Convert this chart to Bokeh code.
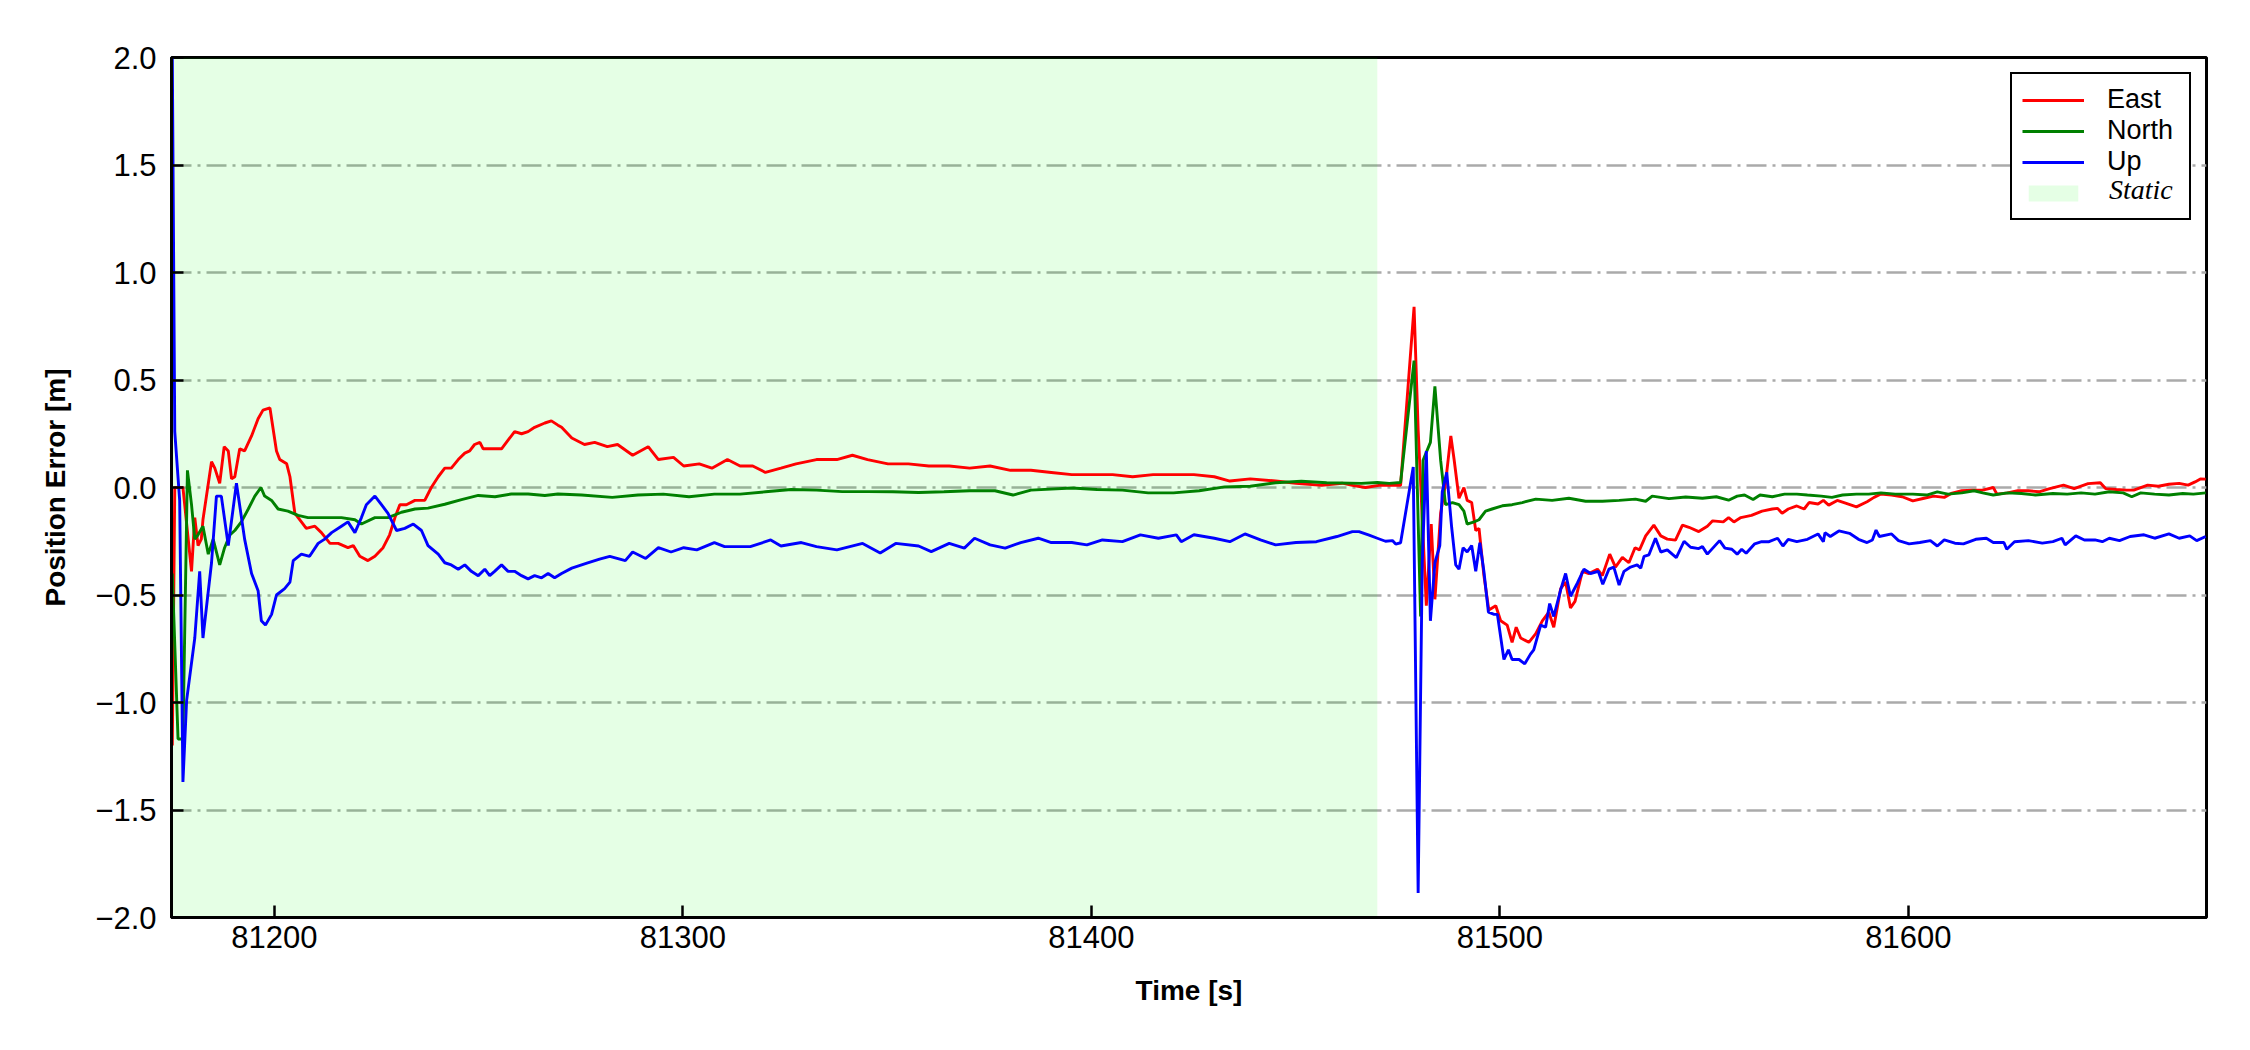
from bokeh.plotting import figure
from bokeh.models import (Range1d, FixedTicker, Legend, LegendItem)
from bokeh.embed import file_html
from bokeh.resources import INLINE

# ---------------- data ----------------
east_t = [81175.0, 81175.6, 81177.6, 81179.7, 81180.5, 81181.3, 81182.1, 81182.5, 81184.6, 81185.4,
          81186.6, 81187.7, 81188.7, 81189.5, 81190.3, 81191.5, 81192.7, 81194.4, 81196.0, 81197.2,
          81198.9, 81200.5, 81201.3, 81203.0, 81203.8, 81205.0, 81206.6, 81207.8, 81209.9, 81211.5,
          81213.6, 81215.6, 81218.0, 81219.3, 81220.9, 81222.9, 81224.6, 81226.6, 81228.2, 81229.5,
          81230.7, 81232.3, 81234.4, 81236.8, 81238.4, 81240.1, 81241.7, 81243.3, 81245.0, 81246.6,
          81247.8, 81249.0, 81250.3, 81251.1, 81252.3, 81253.9, 81255.6, 81257.2, 81258.8, 81260.5,
          81262.1, 81263.7, 81266.2, 81267.8, 81269.4,
          81270.3, 81272.8, 81275.9, 81278.4, 81281.5, 81284.0, 81287.7, 81291.5, 81294.0, 81297.7,
          81300.2, 81304.0, 81307.1, 81310.9, 81314.0, 81317.1, 81320.2, 81324.0, 81327.7, 81332.7,
          81337.7, 81341.5, 81345.2, 81350.2, 81355.2, 81360.2, 81365.2, 81370.2, 81375.2, 81380.2,
          81385.2, 81390.2, 81395.2, 81400.2, 81405.2, 81410.1, 81415.1, 81420.1, 81425.1, 81430.1,
          81433.9, 81438.9, 81445.1, 81450.1, 81456.4, 81461.4,
          81463.9, 81467.1, 81470.4, 81472.9, 81475.7, 81479.0, 81480.0, 81482.0, 81483.2, 81484.1,
          81485.5, 81486.7, 81488.0, 81488.8, 81490.0, 81491.2, 81492.0, 81493.1, 81494.1, 81494.9,
          81496.1, 81497.3, 81499.0, 81500.2, 81501.8, 81503.0, 81504.0, 81505.1, 81507.1, 81508.8,
          81510.4, 81512.0, 81513.2, 81514.9, 81516.1, 81517.3, 81518.4, 81520.2, 81521.8, 81523.9,
          81525.1, 81526.9, 81528.3, 81530.0, 81531.6, 81533.1, 81534.2, 81535.7, 81537.7, 81539.4,
          81541.0, 81543.0, 81544.7, 81546.3, 81548.7,
          81550.8, 81552.1, 81554.7, 81556.0, 81557.3, 81559.0, 81561.6, 81564.2, 81566.7, 81568.0,
          81569.1, 81570.6, 81572.7, 81574.5, 81575.7, 81577.9, 81579.2, 81580.5, 81582.6, 81584.8,
          81587.3, 81589.9, 81591.6, 81593.3, 81595.9, 81598.5, 81601.1, 81603.6, 81606.2, 81608.8,
          81610.5, 81613.1, 81615.7, 81618.2, 81620.8, 81621.7, 81624.3, 81626.8, 81629.4, 81632.0,
          81634.6, 81638.0, 81640.6, 81644.0, 81647.0, 81648.3, 81650.9, 81653.4, 81655.2, 81658.6,
          81661.2, 81663.8, 81666.3, 81668.5, 81670.2, 81671.5, 81672.8]
east_v = [-1.20, 0.00, 0.00, -0.39, -0.14, -0.27, -0.24, -0.15, 0.12, 0.09,
          0.02, 0.19, 0.17, 0.04, 0.05, 0.18, 0.17, 0.24, 0.32, 0.36,
          0.37, 0.17, 0.13, 0.11, 0.05, -0.12, -0.16, -0.19, -0.18, -0.21,
          -0.26, -0.26, -0.28, -0.27, -0.32, -0.34, -0.32, -0.28, -0.22, -0.14,
          -0.08, -0.08, -0.06, -0.06, 0.00, 0.05, 0.09, 0.09, 0.13, 0.16,
          0.17, 0.20, 0.21, 0.18, 0.18, 0.18, 0.18, 0.22, 0.26, 0.25,
          0.26, 0.28, 0.30, 0.31, 0.29,
          0.28, 0.23, 0.20, 0.21, 0.19, 0.20, 0.15, 0.19, 0.13, 0.14,
          0.10, 0.11, 0.09, 0.13, 0.10, 0.10, 0.07, 0.09, 0.11, 0.13,
          0.13, 0.15, 0.13, 0.11, 0.11, 0.10, 0.10, 0.09, 0.10, 0.08,
          0.08, 0.07, 0.06, 0.06, 0.06, 0.05, 0.06, 0.06, 0.06, 0.05,
          0.03, 0.04, 0.03, 0.02, 0.01, 0.02,
          0.01, 0.00, 0.01, 0.01, 0.01, 0.84, 0.27, -0.55, -0.17, -0.52,
          -0.12, 0.02, 0.24, 0.13, -0.05, 0.00, -0.06, -0.07, -0.20, -0.19,
          -0.41, -0.57, -0.55, -0.62, -0.64, -0.72, -0.65, -0.70, -0.72, -0.68,
          -0.62, -0.58, -0.65, -0.47, -0.44, -0.56, -0.53, -0.39, -0.40, -0.38,
          -0.41, -0.31, -0.37, -0.325, -0.35, -0.28, -0.29, -0.225, -0.175, -0.225,
          -0.24, -0.245, -0.175, -0.185, -0.205,
          -0.18, -0.155, -0.16, -0.14, -0.16, -0.14, -0.13, -0.11, -0.10, -0.097,
          -0.12, -0.10, -0.086, -0.10, -0.07, -0.077, -0.06, -0.082, -0.06, -0.074,
          -0.09, -0.066, -0.046, -0.03, -0.035, -0.043, -0.062, -0.051, -0.04, -0.046,
          -0.028, -0.015, -0.012, -0.012, 0.00, -0.031, -0.025, -0.015, -0.015, -0.02,
          -0.005, 0.011, -0.005, 0.018, 0.022, -0.005, -0.009, -0.012, -0.012, 0.011,
          0.006, 0.015, 0.019, 0.011, 0.026, 0.040, 0.039]

north_t = [81175.0, 81176.4, 81177.6, 81178.7, 81179.7, 81180.5, 81181.3, 81182.5, 81183.8, 81185.0,
           81186.6, 81187.8, 81189.1, 81190.3, 81191.9, 81193.6, 81195.2, 81196.7, 81197.6, 81199.3,
           81200.9, 81203.3, 81205.8, 81208.2, 81212.3, 81216.4, 81219.7, 81221.3, 81224.6, 81227.8,
           81231.1, 81234.4, 81237.6, 81241.7, 81245.8, 81249.9, 81254.0, 81258.0, 81262.1, 81266.2,
           81269.4,
           81275.2, 81282.7, 81289.0, 81295.2, 81301.5, 81307.7, 81314.0, 81320.2, 81326.5, 81332.7,
           81339.0, 81345.2, 81351.4, 81357.7, 81363.9, 81370.2, 81376.4, 81380.8, 81385.2, 81395.2,
           81401.4, 81407.6, 81413.9, 81420.1, 81426.4, 81432.6, 81438.9, 81445.1, 81451.4, 81457.6,
           81466.1,
           81470.0, 81472.9, 81475.7, 81479.0, 81480.6, 81481.2, 81483.0, 81484.1, 81485.5, 81486.7,
           81488.4, 81490.0, 81491.2, 81492.0, 81493.7, 81494.9, 81496.5, 81498.1, 81500.6, 81503.0,
           81505.5, 81508.8, 81512.8, 81516.9, 81521.0, 81525.1, 81529.2, 81533.2, 81535.7, 81537.3,
           81541.4, 81545.5,
           81549.6, 81553.0, 81556.0, 81558.1, 81559.9, 81562.0, 81563.7, 81566.7, 81569.7, 81572.7,
           81575.3, 81578.7, 81581.3, 81583.9, 81587.3, 81590.3, 81593.3, 81596.8, 81601.1, 81604.5,
           81607.1, 81609.7, 81613.1, 81616.1, 81618.2, 81620.8, 81624.3, 81627.7, 81631.1, 81635.4,
           81638.9, 81642.3, 81645.7, 81649.2, 81652.6, 81654.7, 81656.9, 81660.3, 81663.8, 81667.2,
           81669.8, 81672.8]
north_v = [-0.40, -1.17, -1.17, 0.08, -0.08, -0.24, -0.22, -0.18, -0.31, -0.24,
           -0.36, -0.28, -0.22, -0.20, -0.16, -0.10, -0.04, 0.00, -0.04, -0.06,
           -0.10, -0.11, -0.13, -0.14, -0.14, -0.14, -0.15, -0.17, -0.14, -0.14,
           -0.115, -0.10, -0.096, -0.078, -0.056, -0.037, -0.043, -0.03, -0.03, -0.037,
           -0.03,
           -0.035, -0.046, -0.035, -0.031, -0.043, -0.031, -0.031, -0.02, -0.009, -0.012,
           -0.019, -0.019, -0.02, -0.023, -0.02, -0.015, -0.015, -0.035, -0.012, -0.002,
           -0.009, -0.012, -0.025, -0.025, -0.015, 0.003, 0.006, 0.022, 0.029, 0.022,
           0.019,
           0.023, 0.019, 0.023, 0.59, -0.60, 0.127, 0.21, 0.47, 0.127, -0.08,
           -0.07, -0.08, -0.11, -0.17, -0.16, -0.15, -0.11, -0.10, -0.085, -0.08,
           -0.07, -0.054, -0.06, -0.05, -0.064, -0.064, -0.06, -0.054, -0.064, -0.04,
           -0.052, -0.044,
           -0.05, -0.043, -0.059, -0.04, -0.035, -0.056, -0.035, -0.043, -0.031, -0.031,
           -0.035, -0.04, -0.046, -0.035, -0.031, -0.031, -0.025, -0.031, -0.031, -0.035,
           -0.02, -0.031, -0.025, -0.015, -0.025, -0.035, -0.025, -0.028, -0.035, -0.028,
           -0.031, -0.025, -0.031, -0.02, -0.025, -0.043, -0.025, -0.031, -0.035, -0.028,
           -0.031, -0.025]

up_t = [81175.0, 81175.6, 81176.8, 81177.6, 81178.5, 81180.5, 81181.7, 81182.5, 81184.6, 81185.8,
        81187.0, 81188.7, 81190.7, 81192.7, 81194.4, 81196.0, 81196.8, 81197.8, 81199.3, 81200.5,
        81202.5, 81203.8, 81204.6, 81206.6, 81208.6, 81210.7, 81212.3, 81214.0, 81216.4, 81218.0,
        81219.7, 81221.3, 81222.5, 81224.6, 81226.2, 81227.8, 81229.9, 81231.9, 81234.0, 81236.0,
        81237.6, 81240.1, 81241.7, 81243.3, 81245.0, 81246.6, 81248.2, 81249.9, 81251.5, 81252.7,
        81253.9, 81255.6, 81257.2, 81258.8, 81260.5, 81262.1, 81263.7, 81265.4, 81267.0, 81268.6,
        81270.3,
        81272.8, 81276.5, 81279.6, 81282.1, 81285.9, 81287.7, 81290.9, 81294.0, 81297.1, 81300.2,
        81303.4, 81307.7, 81310.2, 81316.5, 81321.5, 81324.0, 81329.0, 81332.7, 81337.7, 81344.0,
        81348.3, 81352.1, 81357.7, 81360.8, 81365.2, 81368.9, 81371.4, 81375.2, 81378.9, 81382.7,
        81387.0, 81390.2, 81395.2, 81398.9, 81402.7, 81407.6, 81412.0, 81416.4, 81420.8, 81422.0,
        81425.1, 81430.1, 81433.9, 81437.6, 81441.4, 81445.1, 81450.1, 81455.1, 81460.1, 81463.9,
        81465.5, 81468.0, 81470.0, 81472.0, 81473.7, 81474.5, 81475.7, 81478.8, 81480.0, 81481.0,
        81482.0, 81483.0, 81484.1, 81485.3, 81485.9, 81487.0, 81488.2, 81489.2, 81490.0, 81491.0,
        81492.0, 81493.1, 81494.1, 81495.1, 81496.1, 81497.2, 81498.6, 81499.4, 81501.0, 81502.1,
        81503.0, 81504.7, 81506.1, 81507.5, 81508.3, 81510.0, 81511.2, 81512.2, 81513.2, 81514.9,
        81516.1, 81517.3, 81519.0, 81520.6, 81522.2, 81524.1, 81525.2, 81526.7, 81527.9, 81529.2,
        81530.4, 81532.0, 81533.6, 81534.5, 81535.3, 81536.5, 81538.1, 81539.4, 81541.0, 81542.2,
        81543.2, 81545.1, 81546.7, 81548.7,
        81549.6, 81550.8, 81553.8, 81555.1, 81556.8, 81558.1, 81559.2, 81560.3, 81562.4, 81564.1,
        81565.9, 81568.0, 81569.3, 81570.6, 81572.7, 81575.3, 81577.9, 81579.2, 81579.6, 81580.9,
        81583.0, 81585.6, 81587.8, 81589.9, 81591.2, 81592.1, 81592.9, 81595.9, 81597.6, 81600.2,
        81602.8, 81605.4, 81607.1, 81608.8, 81611.4, 81613.5, 81616.5, 81619.1, 81620.8, 81623.4,
        81624.1, 81626.0, 81629.4, 81632.8, 81635.4, 81637.6, 81638.4, 81641.0, 81643.1, 81645.7,
        81647.5, 81649.2, 81651.7, 81654.3, 81657.7, 81660.3, 81663.8, 81666.3, 81668.9, 81670.6,
        81672.8]
up_v = [2.00, 0.26, -0.06, -1.37, -0.99, -0.70, -0.39, -0.70, -0.35, -0.04,
        -0.04, -0.27, 0.02, -0.24, -0.40, -0.48, -0.62, -0.64, -0.59, -0.50,
        -0.47, -0.44, -0.34, -0.31, -0.32, -0.26, -0.24, -0.21, -0.18, -0.16,
        -0.21, -0.14, -0.08, -0.04, -0.08, -0.12, -0.20, -0.19, -0.17, -0.20,
        -0.27, -0.31, -0.35, -0.36, -0.38, -0.36, -0.39, -0.41, -0.38, -0.41,
        -0.39, -0.36, -0.39, -0.39, -0.41, -0.425, -0.41, -0.42, -0.40, -0.42,
        -0.40,
        -0.375, -0.352, -0.333, -0.32, -0.34, -0.30, -0.33, -0.28, -0.30, -0.28,
        -0.29, -0.256, -0.275, -0.275, -0.244, -0.272, -0.256, -0.275, -0.29, -0.26,
        -0.305, -0.26, -0.272, -0.298, -0.26, -0.282, -0.236, -0.267, -0.282, -0.256,
        -0.236, -0.256, -0.256, -0.267, -0.244, -0.252, -0.22, -0.236, -0.22, -0.252,
        -0.22, -0.236, -0.252, -0.216, -0.244, -0.267, -0.256, -0.252, -0.228, -0.205,
        -0.205, -0.222, -0.236, -0.25, -0.247, -0.263, -0.257, 0.095, -1.886, -0.35,
        0.17, -0.62, -0.35, -0.27, -0.02, 0.07, -0.185, -0.36, -0.38, -0.28,
        -0.30, -0.27, -0.39, -0.257, -0.39, -0.58, -0.59, -0.59, -0.80, -0.755,
        -0.80, -0.80, -0.82, -0.775, -0.755, -0.64, -0.65, -0.54, -0.60, -0.475,
        -0.40, -0.506, -0.444, -0.38, -0.40, -0.39, -0.45, -0.38, -0.37, -0.454,
        -0.39, -0.37, -0.36, -0.375, -0.32, -0.313, -0.236, -0.30, -0.29, -0.31,
        -0.326, -0.25, -0.278, -0.284,
        -0.275, -0.31, -0.247, -0.282, -0.287, -0.31, -0.287, -0.306, -0.262, -0.252,
        -0.252, -0.236, -0.272, -0.241, -0.252, -0.241, -0.216, -0.252, -0.21, -0.228,
        -0.202, -0.213, -0.241, -0.256, -0.244, -0.198, -0.228, -0.216, -0.247, -0.262,
        -0.256, -0.247, -0.272, -0.244, -0.259, -0.262, -0.241, -0.236, -0.256, -0.256,
        -0.287, -0.252, -0.247, -0.259, -0.252, -0.236, -0.267, -0.225, -0.244, -0.244,
        -0.252, -0.236, -0.247, -0.228, -0.22, -0.236, -0.216, -0.236, -0.225, -0.247,
        -0.228]

static_start = 81174.8
static_end = 81470.0

x_ticks = [81200, 81300, 81400, 81500, 81600]
y_ticks = [-2.0, -1.5, -1.0, -0.5, 0.0, 0.5, 1.0, 1.5, 2.0]
y_tick_labels = ["\u22122.0", "\u22121.5", "\u22121.0", "\u22120.5", "0.0", "0.5", "1.0", "1.5", "2.0"]
x_range_lim = (81174.8, 81673.0)
y_range_lim = (-2.0, 2.0)

# ---------------- figure ----------------
FW, FH = 2035, 860  # frame size in px
p = figure(width=2242, height=1042, output_backend="svg", toolbar_location=None,
           x_range=Range1d(*x_range_lim), y_range=Range1d(*y_range_lim),
           min_border_left=171, min_border_right=36, min_border_top=57, min_border_bottom=125)
p.background_fill_color = "white"
p.border_fill_color = "white"
p.outline_line_color = "black"
p.outline_line_alpha = 1.0
p.outline_line_width = 3

static_r = p.quad(left=[static_start], right=[static_end], bottom=[y_range_lim[0]], top=[y_range_lim[1]],
                  fill_color="#00ff00", fill_alpha=0.1, line_color=None)

lw = 2.9
east_r = p.line(east_t, east_v, line_color="#ff0000", line_width=lw)
north_r = p.line(north_t, north_v, line_color="#008000", line_width=lw)
up_r = p.line(up_t, up_v, line_color="#0000ff", line_width=lw)
# invisible renderer used only as the glyph of the italic "Static" legend entry
blank_r = p.line(x=[], y=[], line_alpha=0)

# grid
p.xgrid.visible = False
p.ygrid.ticker = FixedTicker(ticks=y_ticks)
p.ygrid.grid_line_color = "#aaaaaa"
p.ygrid.grid_line_width = 2.5
p.ygrid.grid_line_dash = "20 6 3 6"

# axes
for ax in (p.xaxis[0], p.yaxis[0]):
    ax.axis_line_width = 3
    ax.axis_line_color = "black"
    ax.major_tick_in = 12
    ax.major_tick_out = 0
    ax.major_tick_line_width = 2.5
    ax.major_tick_line_color = "black"
    ax.minor_tick_line_color = None
    ax.major_label_text_font = "Liberation Sans"
    ax.major_label_text_font_size = "31px"
    ax.major_label_text_color = "black"
    ax.axis_label_text_font = "Liberation Sans"
    ax.axis_label_text_font_style = "bold"
    ax.axis_label_text_font_size = "28px"
    ax.axis_label_text_color = "black"

p.xaxis[0].ticker = FixedTicker(ticks=x_ticks)
p.xaxis[0].major_label_overrides = {t: str(t) for t in x_ticks}
p.xaxis[0].major_label_standoff = 8
p.xaxis[0].axis_label = "Time [s]"
p.xaxis[0].axis_label_standoff = 24

p.yaxis[0].ticker = FixedTicker(ticks=y_ticks)
p.yaxis[0].major_label_overrides = {t: l for t, l in zip(y_ticks, y_tick_labels)}
p.yaxis[0].major_label_standoff = 15
p.yaxis[0].axis_label = "Position Error [m]"
p.yaxis[0].axis_label_standoff = 21

# legend (box with East / North / Up and the Static patch)
ROW = 31
legend = Legend(items=[LegendItem(label="East", renderers=[east_r]),
                       LegendItem(label="North", renderers=[north_r]),
                       LegendItem(label="Up", renderers=[up_r]),
                       LegendItem(label=" ", renderers=[static_r])],
                location="top_right", margin=15, padding=10, spacing=0,
                glyph_width=62, glyph_height=20, label_height=ROW, label_width=72,
                label_standoff=23, label_text_font="Liberation Sans", label_text_font_size="27px",
                label_text_color="black",
                border_line_color="black", border_line_alpha=1.0, border_line_width=2.8,
                background_fill_color="white", background_fill_alpha=1.0)
p.add_layout(legend)

# second, borderless legend holding only the italic serif "Static" text
vx = FW - 15 - 177 + 10 + 62 + 23
vy = FH - 15 - 10 - 3 * ROW - ROW
legend2 = Legend(items=[LegendItem(label="Static", renderers=[blank_r])],
                 location=(vx, vy), margin=0, padding=0, spacing=0,
                 glyph_width=0, glyph_height=20, label_height=ROW, label_standoff=0,
                 label_text_font="Liberation Serif", label_text_font_style="italic",
                 label_text_font_size="28px", label_text_color="black",
                 border_line_color=None, background_fill_alpha=0.0)
p.add_layout(legend2)

open("out.html", "w").write(file_html(p, INLINE))
